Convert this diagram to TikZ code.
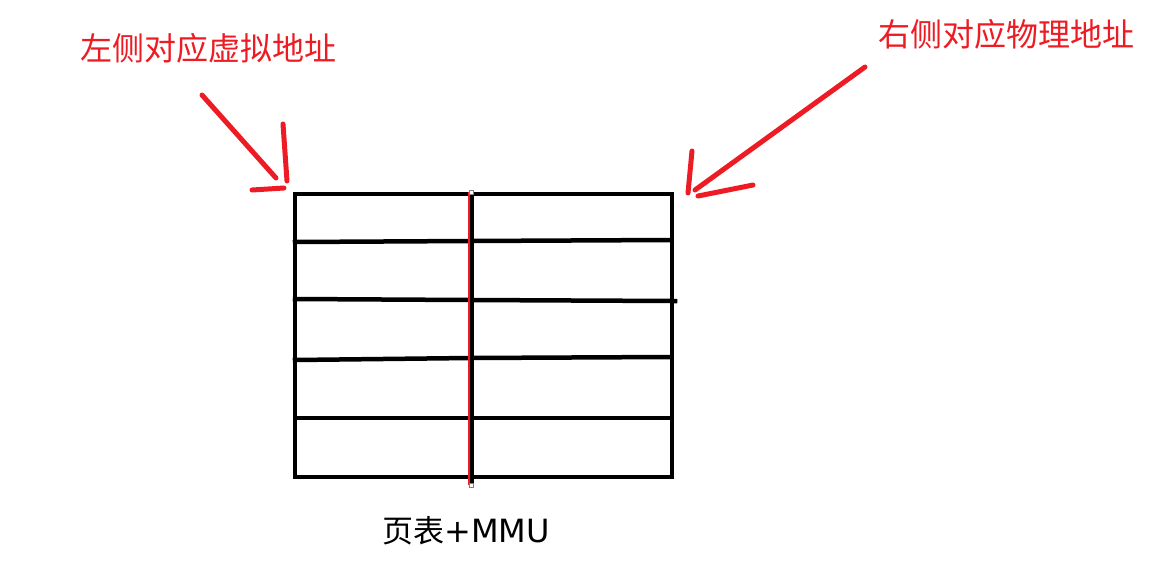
\documentclass[tikz,border=0pt]{standalone}
\usepackage{fontspec}
\newfontfamily\cjk{Noto Sans CJK SC}
\newfontfamily\latn{DejaVu Sans}
\definecolor{penred}{RGB}{237,28,36}
\begin{document}
\begin{tikzpicture}[x=1pt,y=-1pt,
  grid/.style={line width=4.5pt,black,line cap=rect},
  stroke/.style={line width=5pt,penred,line cap=round},
  lbl/.style={inner sep=0pt,font=\cjk\fontsize{32}{36}\selectfont}]
\useasboundingbox (0,0) rectangle (1175,579);
% labels
\node[lbl,text=penred,anchor=west] (vl) at (80,48) {左侧对应虚拟地址};
\node[lbl,text=penred,anchor=west] (pl) at (878,34) {右侧对应物理地址};
\node[lbl,anchor=west,font=\cjk\fontsize{31}{36}\selectfont] (mmu) at (382,531) {页表{\latn\fontsize{32}{36}\selectfont +MMU}};
% table
\coordinate (tl) at (295,194);
\coordinate (br) at (672,477);
\draw[grid] (tl) rectangle (br);
\draw[grid] (295,242) -- (470,241) -- (670,240);
\draw[grid] (295,299) -- (470,300) -- (675,301);
\draw[grid] (295,360) -- (470,358) -- (670,357);
\draw[grid] (295,418) -- (670,418);
% divider
\coordinate (vt) at (468,192);
\coordinate (vb) at (474,485);
\fill[black] (vt) rectangle (vb);
\fill[penred] (vt) rectangle (470.2,485);
\draw[gray,line width=0.8pt,fill=white] (469,190) rectangle (473,194);
\draw[gray,line width=0.8pt,fill=white] (469,483) rectangle (473,487);
% left arrow
\draw[stroke] (202,95) -- (276,178);
\draw[stroke] (283,124) -- (287,181);
\draw[stroke] (252,190) -- (284,188);
% right arrow
\draw[stroke] (865,67) -- (695,190);
\draw[stroke] (692,151) -- (688,193);
\draw[stroke] (698,196) -- (753,185);
\end{tikzpicture}
\end{document}
